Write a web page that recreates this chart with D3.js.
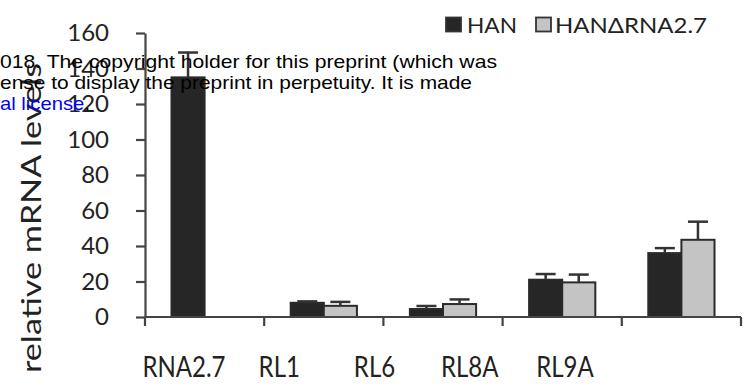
<!DOCTYPE html>
<html>
<head>
<meta charset="utf-8">
<script src="https://cdn.jsdelivr.net/npm/d3@7"></script>
<style>
  html, body { margin: 0; padding: 0; background: #fff; }
  svg { display: block; }
  text { font-family: Lato, "Open Sans", sans-serif; fill: #222; }
</style>
</head>
<body>
<svg id="chart" width="753" height="391"></svg>
<script>
// ---- data ----
const categories = ["RNA2.7", "RL1", "RL6", "RL8A", "RL9A"];
const seriesNames = ["HAN", "HAN\u0394RNA2.7"];
const hanValues = [135, 8, 4.5, 21, 36];
const hanErrors = [14, 0.8, 1.7, 3.2, 2.8];
const deltaValues = [0, 6.3, 7.3, 19.5, 43.5];
const deltaErrors = [0, 2.2, 2.6, 4.4, 10.2];
const yTicks = [0, 20, 40, 60, 80, 100, 120, 140, 160];
const yLabel = "relative mRNA levels";
const watermark = [
  "018. The copyright holder for this preprint (which was",
  "ense to display the preprint in perpetuity. It is made"
];
const watermarkLink = "al license";

const svg = d3.select("#chart");

const y = d3.scaleLinear().domain([0, 160]).range([317, 33]);
const x = d3.scaleBand().domain(categories).range([145, 741]).padding(0);
const x1 = d3.scaleBand().domain(seriesNames).range([0, x.bandwidth()])
  .paddingInner(0).paddingOuter(0.8);
const xLabel = d3.scalePoint().domain(categories).range([184, 565]);
const color = d3.scaleOrdinal().domain(seriesNames).range(["#262626", "#c4c4c4"]);

const rows = categories.map((c, i) => ({
  cat: c,
  vals: [
    { s: seriesNames[0], v: hanValues[i], e: hanErrors[i] },
    { s: seriesNames[1], v: deltaValues[i], e: deltaErrors[i] }
  ]
}));

// bars
const g = svg.append("g");
const groups = g.selectAll("g.grp").data(rows).join("g")
  .attr("transform", d => `translate(${x(d.cat)},0)`);
groups.selectAll("rect").data(d => d.vals.filter(v => v.v > 0)).join("rect")
  .attr("x", d => x1(d.s))
  .attr("width", x1.bandwidth())
  .attr("y", d => y(d.v))
  .attr("height", d => y(0) - y(d.v))
  .attr("fill", d => color(d.s))
  .attr("stroke", "#2a2a2a")
  .attr("stroke-width", 2);
// error bars (upper only)
const eb = groups.selectAll("g.err").data(d => d.vals.filter(v => v.e > 0)).join("g");
eb.append("line")
  .attr("x1", d => x1(d.s) + x1.bandwidth() / 2)
  .attr("x2", d => x1(d.s) + x1.bandwidth() / 2)
  .attr("y1", d => y(d.v))
  .attr("y2", d => y(d.v + d.e))
  .attr("stroke", "#333").attr("stroke-width", 2.5);
eb.append("line")
  .attr("x1", d => x1(d.s) + x1.bandwidth() / 2 - 10)
  .attr("x2", d => x1(d.s) + x1.bandwidth() / 2 + 10)
  .attr("y1", d => y(d.v + d.e))
  .attr("y2", d => y(d.v + d.e))
  .attr("stroke", "#333").attr("stroke-width", 2.5);

// y axis
const yAxis = svg.append("g").attr("transform", "translate(145,0)")
  .call(d3.axisLeft(y).tickValues(yTicks).tickSize(9).tickPadding(27).tickSizeOuter(0));
yAxis.select(".domain").attr("stroke", "#444").attr("stroke-width", 2.2);
yAxis.selectAll(".tick line").attr("stroke", "#444").attr("stroke-width", 2.2);
yAxis.selectAll(".tick text").attr("font-size", 24).attr("fill", "#222")
  .attr("font-family", "Lato, sans-serif");

// x axis: line and ticks at band boundaries
const xAxisG = svg.append("g");
const bounds = categories.map(c => x(c)).concat([x.range()[1]]);
xAxisG.append("line")
  .attr("x1", x.range()[0]).attr("x2", x.range()[1])
  .attr("y1", y(0)).attr("y2", y(0))
  .attr("stroke", "#444").attr("stroke-width", 2.2);
xAxisG.selectAll("line.t").data(bounds).join("line").attr("class", "t")
  .attr("x1", d => d).attr("x2", d => d)
  .attr("y1", y(0)).attr("y2", y(0) + 9)
  .attr("stroke", "#444").attr("stroke-width", 2.2);
svg.append("g").selectAll("text").data(categories).join("text")
  .attr("transform", d => `translate(${xLabel(d)},377) scale(1,1.2)`)
  .attr("text-anchor", "middle")
  .attr("font-size", 24)
  .text(d => d);

// y label
svg.append("text")
  .attr("transform", "translate(41,373) rotate(-90)")
  .attr("text-anchor", "start")
  .attr("font-size", 27)
  .attr("textLength", 310)
  .attr("lengthAdjust", "spacingAndGlyphs")
  .text(yLabel);

// legend
const leg = svg.append("g");
const legX = [446, 536];
const legTextX = [467, 555];
const legTextW = [50, 152];
seriesNames.forEach((s, i) => {
  leg.append("rect").attr("x", legX[i]).attr("y", 17.5).attr("width", 15).attr("height", 14)
    .attr("fill", color(s)).attr("stroke", "#333").attr("stroke-width", 1.8);
  leg.append("text").attr("x", legTextX[i]).attr("y", 33).attr("font-size", 21)
    .attr("textLength", legTextW[i]).attr("lengthAdjust", "spacingAndGlyphs").text(s);
});

// watermark overlay
const wmLens = [497, 472];
const wm = svg.append("g");
watermark.forEach((t, i) => {
  wm.append("text").attr("x", 0).attr("y", 68 + i * 21)
    .style("font-family", "'Liberation Sans', Arial, sans-serif")
    .style("fill", "#000").attr("font-size", 19)
    .attr("textLength", wmLens[i]).attr("lengthAdjust", "spacingAndGlyphs")
    .text(t);
});
const l3 = wm.append("text").attr("x", 0).attr("y", 110)
  .style("font-family", "'Liberation Sans', Arial, sans-serif").attr("font-size", 19)
  .attr("textLength", 90).attr("lengthAdjust", "spacingAndGlyphs");
l3.append("tspan").style("fill", "#0000ff").text(watermarkLink);
l3.append("tspan").style("fill", "#000").text(".");
</script>
</body>
</html>
